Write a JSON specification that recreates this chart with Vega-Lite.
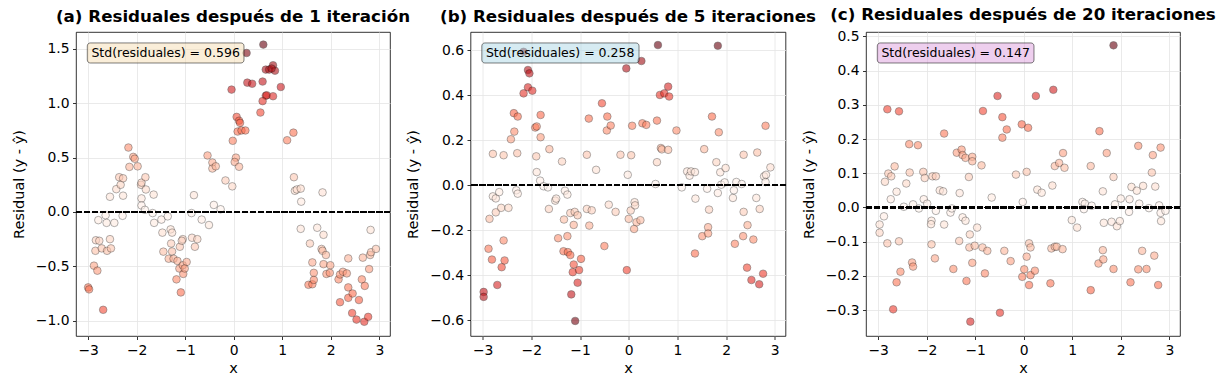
{
"$schema": "https://vega.github.io/schema/vega-lite/v6.json",
"background": "white",
"padding": {"left": 10, "top": 6, "right": 5, "bottom": 5},
"bounds": "flush",
"spacing": 80.5,
"datasets": {
"a": [{"x":-3.0,"r":-0.694},{"x":-2.98,"r":-0.712},{"x":-2.88,"r":-0.494},{"x":-2.81,"r":-0.54},{"x":-2.69,"r":-0.9},{"x":-2.79,"r":-0.075},{"x":-2.84,"r":-0.26},{"x":-2.77,"r":-0.265},{"x":-2.85,"r":-0.357},{"x":-2.72,"r":-0.335},{"x":-2.61,"r":-0.357},{"x":-2.55,"r":-0.25},{"x":-2.53,"r":-0.335},{"x":-2.64,"r":-0.03},{"x":-2.62,"r":-0.1},{"x":-2.46,"r":-0.1},{"x":-2.55,"r":0.14},{"x":-2.42,"r":0.21},{"x":-2.36,"r":0.32},{"x":-2.33,"r":0.25},{"x":-2.28,"r":0.31},{"x":-2.28,"r":0.15},{"x":-2.29,"r":-0.035},{"x":-2.17,"r":0.593},{"x":-2.15,"r":0.415},{"x":-2.07,"r":0.507},{"x":-2.04,"r":0.49},{"x":-1.98,"r":0.42},{"x":-1.91,"r":0.25},{"x":-1.9,"r":0.27},{"x":-1.82,"r":0.32},{"x":-1.81,"r":0.207},{"x":-1.9,"r":0.125},{"x":-1.9,"r":0.06},{"x":-1.83,"r":0.02},{"x":-1.67,"r":-0.01},{"x":-1.65,"r":0.16},{"x":-1.64,"r":-0.1},{"x":-1.49,"r":-0.07},{"x":-1.47,"r":-0.19},{"x":-1.36,"r":-0.04},{"x":-1.45,"r":-0.365},{"x":-1.3,"r":-0.16},{"x":-1.27,"r":-0.19},{"x":-1.29,"r":-0.29},{"x":-1.27,"r":-0.363},{"x":-1.34,"r":-0.43},{"x":-1.24,"r":-0.43},{"x":-1.16,"r":-0.45},{"x":-1.11,"r":-0.32},{"x":-1.05,"r":-0.25},{"x":-1.07,"r":-0.265},{"x":-1.12,"r":-0.52},{"x":-1.05,"r":-0.49},{"x":-1.04,"r":-0.57},{"x":-0.97,"r":-0.46},{"x":-1.01,"r":-0.52},{"x":-1.18,"r":-0.62},{"x":-1.09,"r":-0.74},{"x":-0.87,"r":-0.01},{"x":-0.82,"r":0.155},{"x":-0.86,"r":-0.237},{"x":-0.8,"r":-0.32},{"x":-0.75,"r":-0.25},{"x":-0.66,"r":-0.07},{"x":-0.51,"r":-0.12},{"x":-0.41,"r":0.065},{"x":-0.27,"r":0.025},{"x":-0.54,"r":0.52},{"x":-0.44,"r":0.455},{"x":-0.44,"r":0.4},{"x":-0.37,"r":0.42},{"x":-0.17,"r":0.29},{"x":-0.03,"r":0.236},{"x":-0.02,"r":0.655},{"x":0.045,"r":0.5},{"x":0.02,"r":0.46},{"x":0.11,"r":0.416},{"x":-0.045,"r":1.126},{"x":0.06,"r":0.875},{"x":0.11,"r":0.84},{"x":0.13,"r":0.82},{"x":0.08,"r":0.74},{"x":0.16,"r":0.75},{"x":0.24,"r":0.75},{"x":0.265,"r":1.463},{"x":0.28,"r":1.19},{"x":0.38,"r":1.18},{"x":0.61,"r":1.54},{"x":0.595,"r":1.2},{"x":0.66,"r":1.31},{"x":0.73,"r":1.31},{"x":0.81,"r":1.35},{"x":0.85,"r":1.3},{"x":0.78,"r":1.32},{"x":0.66,"r":1.07},{"x":0.68,"r":1.074},{"x":0.81,"r":1.065},{"x":0.595,"r":1.02},{"x":0.55,"r":0.915},{"x":0.97,"r":1.15},{"x":1.1,"r":0.66},{"x":1.23,"r":0.73},{"x":1.24,"r":0.32},{"x":1.26,"r":0.195},{"x":1.3,"r":0.207},{"x":1.38,"r":0.215},{"x":1.39,"r":0.095},{"x":1.38,"r":-0.155},{"x":1.57,"r":-0.29},{"x":1.72,"r":-0.145},{"x":1.83,"r":0.18},{"x":1.85,"r":-0.21},{"x":1.62,"r":-0.464},{"x":1.65,"r":-0.56},{"x":1.54,"r":-0.67},{"x":1.62,"r":-0.665},{"x":1.65,"r":-0.625},{"x":1.81,"r":-0.34},{"x":1.83,"r":-0.357},{"x":1.9,"r":-0.396},{"x":1.85,"r":-0.48},{"x":1.91,"r":-0.57},{"x":1.99,"r":-0.49},{"x":1.98,"r":-0.56},{"x":2.16,"r":-0.62},{"x":2.19,"r":-0.575},{"x":2.25,"r":-0.55},{"x":2.33,"r":-0.565},{"x":2.36,"r":-0.427},{"x":2.19,"r":-0.83},{"x":2.36,"r":-0.694},{"x":2.36,"r":-0.79},{"x":2.45,"r":-0.75},{"x":2.44,"r":-0.93},{"x":2.53,"r":-0.99},{"x":2.58,"r":-0.81},{"x":2.64,"r":-0.62},{"x":2.7,"r":-0.68},{"x":2.69,"r":-1.01},{"x":2.77,"r":-0.965},{"x":2.66,"r":-0.42},{"x":2.79,"r":-0.525},{"x":2.81,"r":-0.396},{"x":2.83,"r":-0.37},{"x":2.82,"r":-0.165},{"x":2.93,"r":-0.34}],
"b": [{"x":-2.98,"r":-0.474},{"x":-2.98,"r":-0.496},{"x":-2.88,"r":-0.282},{"x":-2.81,"r":-0.33},{"x":-2.86,"r":-0.149},{"x":-2.79,"r":0.14},{"x":-2.79,"r":-0.049},{"x":-2.73,"r":-0.058},{"x":-2.73,"r":-0.12},{"x":-2.66,"r":-0.03},{"x":-2.62,"r":-0.1},{"x":-2.47,"r":-0.1},{"x":-2.7,"r":-0.443},{"x":-2.61,"r":-0.364},{"x":-2.57,"r":-0.245},{"x":-2.55,"r":-0.334},{"x":-2.57,"r":0.134},{"x":-2.42,"r":0.205},{"x":-2.35,"r":0.239},{"x":-2.36,"r":0.321},{"x":-2.28,"r":0.306},{"x":-2.29,"r":0.143},{"x":-2.31,"r":-0.022},{"x":-2.28,"r":-0.037},{"x":-2.16,"r":0.594},{"x":-2.07,"r":0.513},{"x":-2.04,"r":0.498},{"x":-2.07,"r":0.436},{"x":-2.16,"r":0.409},{"x":-1.98,"r":0.421},{"x":-1.92,"r":0.257},{"x":-1.89,"r":0.262},{"x":-1.81,"r":0.313},{"x":-1.81,"r":0.214},{"x":-1.9,"r":0.129},{"x":-1.89,"r":0.059},{"x":-1.82,"r":0.021},{"x":-1.75,"r":-0.004},{"x":-1.66,"r":-0.009},{"x":-1.63,"r":0.161},{"x":-1.64,"r":-0.105},{"x":-1.51,"r":-0.068},{"x":-1.49,"r":-0.059},{"x":-1.45,"r":-0.235},{"x":-1.37,"r":0.106},{"x":-1.31,"r":-0.024},{"x":-1.26,"r":-0.041},{"x":-1.33,"r":-0.152},{"x":-1.34,"r":-0.293},{"x":-1.26,"r":-0.226},{"x":-1.25,"r":-0.297},{"x":-1.2,"r":-0.31},{"x":-1.2,"r":-0.123},{"x":-1.13,"r":-0.176},{"x":-1.11,"r":-0.118},{"x":-1.05,"r":-0.133},{"x":-1.13,"r":-0.352},{"x":-1.15,"r":-0.386},{"x":-1.02,"r":-0.377},{"x":-0.98,"r":-0.327},{"x":-1.05,"r":-0.433},{"x":-1.18,"r":-0.485},{"x":-1.1,"r":-0.603},{"x":-0.86,"r":-0.105},{"x":-0.81,"r":-0.179},{"x":-0.76,"r":-0.111},{"x":-0.86,"r":0.136},{"x":-0.82,"r":0.297},{"x":-0.67,"r":0.069},{"x":-0.55,"r":0.365},{"x":-0.44,"r":0.306},{"x":-0.45,"r":0.244},{"x":-0.37,"r":0.266},{"x":-0.5,"r":-0.27},{"x":-0.41,"r":-0.086},{"x":-0.27,"r":-0.118},{"x":-0.17,"r":0.136},{"x":-0.05,"r":0.52},{"x":-0.02,"r":0.047},{"x":0.05,"r":0.134},{"x":0.0,"r":-0.149},{"x":0.04,"r":-0.112},{"x":0.12,"r":-0.075},{"x":0.13,"r":-0.089},{"x":0.11,"r":-0.194},{"x":0.16,"r":-0.164},{"x":0.24,"r":-0.155},{"x":-0.04,"r":-0.377},{"x":0.07,"r":0.265},{"x":0.28,"r":0.276},{"x":0.36,"r":0.269},{"x":0.26,"r":0.553},{"x":0.6,"r":0.624},{"x":0.58,"r":0.288},{"x":0.58,"r":0.103},{"x":0.55,"r":0.006},{"x":0.64,"r":0.402},{"x":0.73,"r":0.409},{"x":0.81,"r":0.439},{"x":0.83,"r":0.395},{"x":0.66,"r":0.166},{"x":0.68,"r":0.16},{"x":0.81,"r":0.158},{"x":0.98,"r":0.244},{"x":1.09,"r":-0.009},{"x":1.2,"r":0.062},{"x":1.25,"r":0.043},{"x":1.28,"r":0.062},{"x":1.36,"r":0.059},{"x":1.37,"r":-0.059},{"x":1.36,"r":-0.303},{"x":1.55,"r":0.161},{"x":1.51,"r":-0.226},{"x":1.61,"r":-0.015},{"x":1.65,"r":-0.108},{"x":1.63,"r":-0.186},{"x":1.63,"r":-0.214},{"x":1.71,"r":0.306},{"x":1.8,"r":0.103},{"x":1.83,"r":0.621},{"x":1.85,"r":0.236},{"x":1.88,"r":0.058},{"x":1.83,"r":-0.034},{"x":1.9,"r":0.003},{"x":1.97,"r":0.013},{"x":1.99,"r":0.077},{"x":2.14,"r":-0.056},{"x":2.16,"r":-0.022},{"x":2.21,"r":0.015},{"x":2.32,"r":0.006},{"x":2.18,"r":-0.26},{"x":2.36,"r":0.136},{"x":2.36,"r":-0.118},{"x":2.35,"r":-0.226},{"x":2.44,"r":-0.177},{"x":2.43,"r":-0.366},{"x":2.52,"r":-0.421},{"x":2.56,"r":-0.241},{"x":2.64,"r":0.146},{"x":2.62,"r":-0.056},{"x":2.69,"r":-0.105},{"x":2.68,"r":-0.44},{"x":2.76,"r":-0.393},{"x":2.81,"r":0.265},{"x":2.78,"r":0.04},{"x":2.82,"r":0.047},{"x":2.81,"r":0.015},{"x":2.91,"r":0.08}],
"c": [{"x":-2.97,"r":-0.074},{"x":-2.97,"r":-0.05},{"x":-2.88,"r":-0.026},{"x":-2.86,"r":0.075},{"x":-2.79,"r":0.099},{"x":-2.73,"r":0.091},{"x":-2.74,"r":0.024},{"x":-2.81,"r":-0.105},{"x":-2.81,"r":0.287},{"x":-2.66,"r":0.12},{"x":-2.62,"r":0.046},{"x":-2.57,"r":0.281},{"x":-2.57,"r":-0.099},{"x":-2.54,"r":-0.188},{"x":-2.62,"r":-0.219},{"x":-2.69,"r":-0.298},{"x":-2.47,"r":0.002},{"x":-2.42,"r":0.07},{"x":-2.35,"r":0.102},{"x":-2.36,"r":0.185},{"x":-2.28,"r":0.009},{"x":-2.3,"r":-0.161},{"x":-2.28,"r":-0.173},{"x":-2.18,"r":0.182},{"x":-2.16,"r":-0.003},{"x":-2.07,"r":0.104},{"x":-2.04,"r":0.086},{"x":-2.06,"r":0.024},{"x":-1.99,"r":0.011},{"x":-1.9,"r":-0.039},{"x":-1.91,"r":-0.049},{"x":-1.88,"r":0.091},{"x":-1.81,"r":0.091},{"x":-1.9,"r":-0.108},{"x":-1.83,"r":-0.149},{"x":-1.81,"r":-0.01},{"x":-1.73,"r":0.05},{"x":-1.66,"r":0.047},{"x":-1.64,"r":-0.05},{"x":-1.64,"r":0.216},{"x":-1.51,"r":-0.015},{"x":-1.48,"r":-0.003},{"x":-1.45,"r":-0.18},{"x":-1.38,"r":0.16},{"x":-1.28,"r":0.169},{"x":-1.26,"r":0.153},{"x":-1.2,"r":0.145},{"x":-1.32,"r":0.042},{"x":-1.26,"r":-0.029},{"x":-1.2,"r":-0.039},{"x":-1.33,"r":-0.098},{"x":-1.13,"r":0.089},{"x":-1.06,"r":0.148},{"x":-1.06,"r":0.135},{"x":-1.18,"r":-0.215},{"x":-1.12,"r":-0.117},{"x":-1.11,"r":-0.079},{"x":-1.01,"r":-0.112},{"x":-0.96,"r":-0.059},{"x":-1.06,"r":-0.162},{"x":-1.1,"r":-0.334},{"x":-0.87,"r":0.123},{"x":-0.84,"r":0.282},{"x":-0.85,"r":-0.117},{"x":-0.75,"r":-0.127},{"x":-0.8,"r":-0.193},{"x":-0.66,"r":0.029},{"x":-0.54,"r":0.326},{"x":-0.49,"r":-0.308},{"x":-0.44,"r":0.264},{"x":-0.44,"r":0.204},{"x":-0.35,"r":0.228},{"x":-0.4,"r":-0.127},{"x":-0.27,"r":-0.157},{"x":-0.16,"r":0.096},{"x":-0.04,"r":0.243},{"x":0.09,"r":0.233},{"x":-0.02,"r":0.016},{"x":0.06,"r":0.104},{"x":0.06,"r":-0.144},{"x":0.01,"r":-0.181},{"x":-0.03,"r":-0.203},{"x":0.11,"r":-0.227},{"x":0.11,"r":-0.105},{"x":0.14,"r":-0.117},{"x":0.14,"r":-0.198},{"x":0.23,"r":-0.185},{"x":0.25,"r":0.326},{"x":0.28,"r":0.052},{"x":0.37,"r":0.043},{"x":0.61,"r":0.344},{"x":0.59,"r":0.064},{"x":0.57,"r":-0.12},{"x":0.55,"r":-0.222},{"x":0.64,"r":-0.115},{"x":0.68,"r":-0.115},{"x":0.64,"r":0.121},{"x":0.73,"r":0.13},{"x":0.81,"r":0.159},{"x":0.84,"r":0.116},{"x":0.8,"r":-0.122},{"x":0.99,"r":-0.037},{"x":1.1,"r":-0.059},{"x":1.21,"r":0.016},{"x":1.26,"r":0.011},{"x":1.24,"r":-0.005},{"x":1.4,"r":0.005},{"x":1.38,"r":0.121},{"x":1.38,"r":-0.242},{"x":1.56,"r":0.223},{"x":1.54,"r":-0.164},{"x":1.63,"r":0.047},{"x":1.63,"r":-0.125},{"x":1.64,"r":-0.152},{"x":1.65,"r":-0.045},{"x":1.71,"r":0.159},{"x":1.81,"r":-0.042},{"x":1.85,"r":0.474},{"x":1.85,"r":0.089},{"x":1.85,"r":-0.18},{"x":1.88,"r":0.009},{"x":1.92,"r":-0.055},{"x":1.98,"r":-0.04},{"x":2.0,"r":0.026},{"x":2.18,"r":0.024},{"x":2.17,"r":-0.013},{"x":2.2,"r":-0.219},{"x":2.22,"r":0.06},{"x":2.33,"r":0.049},{"x":2.38,"r":0.011},{"x":2.36,"r":0.18},{"x":2.36,"r":-0.181},{"x":2.46,"r":0.063},{"x":2.44,"r":-0.127},{"x":2.53,"r":-0.18},{"x":2.58,"r":-0.002},{"x":2.64,"r":0.102},{"x":2.66,"r":0.153},{"x":2.71,"r":0.061},{"x":2.69,"r":-0.141},{"x":2.77,"r":-0.227},{"x":2.79,"r":0.006},{"x":2.82,"r":0.175},{"x":2.82,"r":-0.016},{"x":2.83,"r":-0.04},{"x":2.92,"r":-0.01}]
},
"hconcat": [
{
"title": "(a) Residuales después de 1 iteración",
"width": 314, "height": 304,
"layer": [
{"data": {"name": "a"}, "layer": [
{"mark": {"type": "circle", "size": 58, "opacity": 0.6, "stroke": "#000", "strokeWidth": 0.5},
"encoding": {
"x": {"field": "x", "type": "quantitative", "scale": {"domain": [-3.25, 3.22], "nice": false, "zero": false}, "axis": {"values": [-3,-2,-1,0,1,2,3], "tickCount": 20, "format": "d", "title": "x"}},
"y": {"field": "r", "type": "quantitative", "scale": {"domain": [-1.141, 1.656], "nice": false, "zero": false}, "axis": {"values": [-1,-0.5,0,0.5,1,1.5], "tickCount": 20, "format": ".1f", "title": "Residual (y - ŷ)", "titlePadding": 9}},
"color": {"field": "r", "type": "quantitative", "legend": null, "scale": {"domain": [-1.54,-1.3475,-1.155,-0.9625,-0.77,-0.5775,-0.385,-0.1925,0,0.1925,0.385,0.5775,0.77,0.9625,1.155,1.3475,1.54], "range": ["#67000d","#a50f15","#cb181d","#ef3b2c","#fb6a4a","#fc9272","#fcbba1","#fee0d2","#fff5f0","#fee0d2","#fcbba1","#fc9272","#fb6a4a","#ef3b2c","#cb181d","#a50f15","#67000d"], "interpolate": "rgb", "clamp": true}}
}},
{"mark": {"type": "rule", "strokeDash": [5.5, 2.4], "strokeWidth": 1.5, "color": "#000", "opacity": 0.7}, "encoding": {"y": {"datum": 0}}}
]},
{"data": {"values": [{"label": "Std(residuales) = 0.596"}]}, "layer": [
{"mark": {"type": "rect", "fill": "#f5deb3", "fillOpacity": 0.5, "stroke": "#000", "strokeOpacity": 0.5, "strokeWidth": 1, "cornerRadius": 3},
"encoding": {"x": {"datum": 0.036, "type": "quantitative", "scale": {"domain": [0, 1]}, "axis": null}, "x2": {"datum": 0.535}, "y": {"datum": 0.964, "type": "quantitative", "scale": {"domain": [0, 1]}, "axis": null}, "y2": {"datum": 0.898}}},
{"mark": {"type": "text", "align": "left", "baseline": "middle", "fontSize": 12.5, "color": "#000"},
"encoding": {"x": {"datum": 0.049, "type": "quantitative"}, "y": {"datum": 0.931, "type": "quantitative"}, "text": {"field": "label"}}}
]}
],
"resolve": {"scale": {"x": "independent", "y": "independent"}}
},
{
"title": "(b) Residuales después de 5 iteraciones",
"width": 315, "height": 304,
"layer": [
{"data": {"name": "b"}, "layer": [
{"mark": {"type": "circle", "size": 58, "opacity": 0.6, "stroke": "#000", "strokeWidth": 0.5},
"encoding": {
"x": {"field": "x", "type": "quantitative", "scale": {"domain": [-3.25, 3.22], "nice": false, "zero": false}, "axis": {"values": [-3,-2,-1,0,1,2,3], "tickCount": 20, "format": "d", "title": "x"}},
"y": {"field": "r", "type": "quantitative", "scale": {"domain": [-0.67, 0.682], "nice": false, "zero": false}, "axis": {"values": [-0.6,-0.4,-0.2,0,0.2,0.4,0.6], "tickCount": 20, "format": ".1f", "title": "Residual (y - ŷ)", "titlePadding": 9}},
"color": {"field": "r", "type": "quantitative", "legend": null, "scale": {"domain": [-0.624,-0.546,-0.468,-0.39,-0.312,-0.234,-0.156,-0.078,0,0.078,0.156,0.234,0.312,0.39,0.468,0.546,0.624], "range": ["#67000d","#a50f15","#cb181d","#ef3b2c","#fb6a4a","#fc9272","#fcbba1","#fee0d2","#fff5f0","#fee0d2","#fcbba1","#fc9272","#fb6a4a","#ef3b2c","#cb181d","#a50f15","#67000d"], "interpolate": "rgb", "clamp": true}}
}},
{"mark": {"type": "rule", "strokeDash": [5.5, 2.4], "strokeWidth": 1.5, "color": "#000", "opacity": 0.7}, "encoding": {"y": {"datum": 0}}}
]},
{"data": {"values": [{"label": "Std(residuales) = 0.258"}]}, "layer": [
{"mark": {"type": "rect", "fill": "#add8e6", "fillOpacity": 0.5, "stroke": "#000", "strokeOpacity": 0.5, "strokeWidth": 1, "cornerRadius": 3},
"encoding": {"x": {"datum": 0.036, "type": "quantitative", "scale": {"domain": [0, 1]}, "axis": null}, "x2": {"datum": 0.535}, "y": {"datum": 0.964, "type": "quantitative", "scale": {"domain": [0, 1]}, "axis": null}, "y2": {"datum": 0.898}}},
{"mark": {"type": "text", "align": "left", "baseline": "middle", "fontSize": 12.5, "color": "#000"},
"encoding": {"x": {"datum": 0.049, "type": "quantitative"}, "y": {"datum": 0.931, "type": "quantitative"}, "text": {"field": "label"}}}
]}
],
"resolve": {"scale": {"x": "independent", "y": "independent"}}
},
{
"title": "(c) Residuales después de 20 iteraciones",
"width": 314, "height": 304,
"layer": [
{"data": {"name": "c"}, "layer": [
{"mark": {"type": "circle", "size": 58, "opacity": 0.6, "stroke": "#000", "strokeWidth": 0.5},
"encoding": {
"x": {"field": "x", "type": "quantitative", "scale": {"domain": [-3.25, 3.22], "nice": false, "zero": false}, "axis": {"values": [-3,-2,-1,0,1,2,3], "tickCount": 20, "format": "d", "title": "x"}},
"y": {"field": "r", "type": "quantitative", "scale": {"domain": [-0.376, 0.513], "nice": false, "zero": false}, "axis": {"values": [-0.3,-0.2,-0.1,0,0.1,0.2,0.3,0.4,0.5], "tickCount": 20, "format": ".1f", "title": "Residual (y - ŷ)", "titlePadding": 9}},
"color": {"field": "r", "type": "quantitative", "legend": null, "scale": {"domain": [-0.474,-0.41475,-0.3555,-0.29625,-0.237,-0.17775,-0.1185,-0.05925,0,0.05925,0.1185,0.17775,0.237,0.29625,0.3555,0.41475,0.474], "range": ["#67000d","#a50f15","#cb181d","#ef3b2c","#fb6a4a","#fc9272","#fcbba1","#fee0d2","#fff5f0","#fee0d2","#fcbba1","#fc9272","#fb6a4a","#ef3b2c","#cb181d","#a50f15","#67000d"], "interpolate": "rgb", "clamp": true}}
}},
{"mark": {"type": "rule", "strokeDash": [5.5, 2.4], "strokeWidth": 1.5, "color": "#000", "opacity": 0.7}, "encoding": {"y": {"datum": 0}}}
]},
{"data": {"values": [{"label": "Std(residuales) = 0.147"}]}, "layer": [
{"mark": {"type": "rect", "fill": "#dda0dd", "fillOpacity": 0.5, "stroke": "#000", "strokeOpacity": 0.5, "strokeWidth": 1, "cornerRadius": 3},
"encoding": {"x": {"datum": 0.036, "type": "quantitative", "scale": {"domain": [0, 1]}, "axis": null}, "x2": {"datum": 0.535}, "y": {"datum": 0.964, "type": "quantitative", "scale": {"domain": [0, 1]}, "axis": null}, "y2": {"datum": 0.898}}},
{"mark": {"type": "text", "align": "left", "baseline": "middle", "fontSize": 12.5, "color": "#000"},
"encoding": {"x": {"datum": 0.049, "type": "quantitative"}, "y": {"datum": 0.931, "type": "quantitative"}, "text": {"field": "label"}}}
]}
],
"resolve": {"scale": {"x": "independent", "y": "independent"}}
}
],
"resolve": {"scale": {"color": "independent", "x": "independent", "y": "independent"}},
"config": {
"font": "DejaVu Sans",
"view": {"stroke": "#000", "strokeWidth": 0.8},
"axis": {"grid": true, "gridColor": "#e4e4e4", "gridWidth": 0.8, "domain": false, "tickColor": "#000", "tickSize": 3.5, "tickWidth": 0.8, "labelFontSize": 13.9, "labelColor": "#000", "labelPadding": 3.5, "labelOverlap": false, "titleFontSize": 14.5, "titleFontWeight": "normal", "titleColor": "#000", "titlePadding": 5, "labelFont": "DejaVu Sans", "titleFont": "DejaVu Sans"},
"title": {"fontSize": 16.7, "fontWeight": "bold", "font": "DejaVu Sans", "color": "#000", "offset": 6}
}
}
